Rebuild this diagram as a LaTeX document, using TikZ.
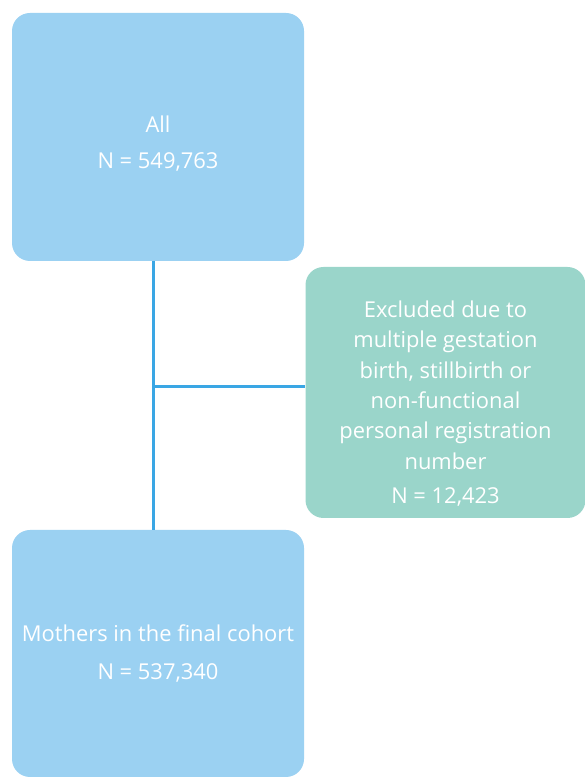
\documentclass[tikz,border=0pt]{standalone}
\usepackage{fontspec}
\setmainfont{Open Sans}
\definecolor{boxblue}{HTML}{9BD1F2}
\definecolor{boxteal}{HTML}{9AD5CA}
\definecolor{linkblue}{HTML}{3AA6E4}
\begin{document}
\begin{tikzpicture}[x=1pt,y=1pt,
  box/.style={rounded corners=18pt, inner sep=0pt},
  boxtext/.style={inner sep=0pt, text=white, align=center,
    font=\fontsize{21.9}{30.3}\selectfont},
  bluebox/.style={box, fill=boxblue, minimum width=292pt},
  tealbox/.style={box, fill=boxteal, minimum width=280pt, minimum height=251pt},
  link/.style={draw=linkblue, line width=3pt}]
\useasboundingbox (0,0) rectangle (585,778);
\node[bluebox, minimum height=248pt] (all) at (158,641) {};
\node[tealbox] (excl) at (445.5,385.5) {};
\node[bluebox, minimum height=247pt] (final) at (158,124.5) {};
\node[boxtext] (alltext) at ([yshift=-6.5pt]all.center) {All\\[5pt]N = 549,763};
\node[boxtext] (excltext) at ([yshift=-11pt]excl.center) {Excluded due to\\multiple gestation\\birth, stillbirth or\\non-functional\\personal registration\\number\\[4pt]N = 12,423};
\node[boxtext] (finaltext) at (final.center) {Mothers in the final cohort\\[7pt]N = 537,340};
\coordinate (j) at (153,391);
\draw[link] (all.south -| j) -- (final.north -| j);
\draw[link] (j) -- (j -| excl.west);
\end{tikzpicture}
\end{document}
